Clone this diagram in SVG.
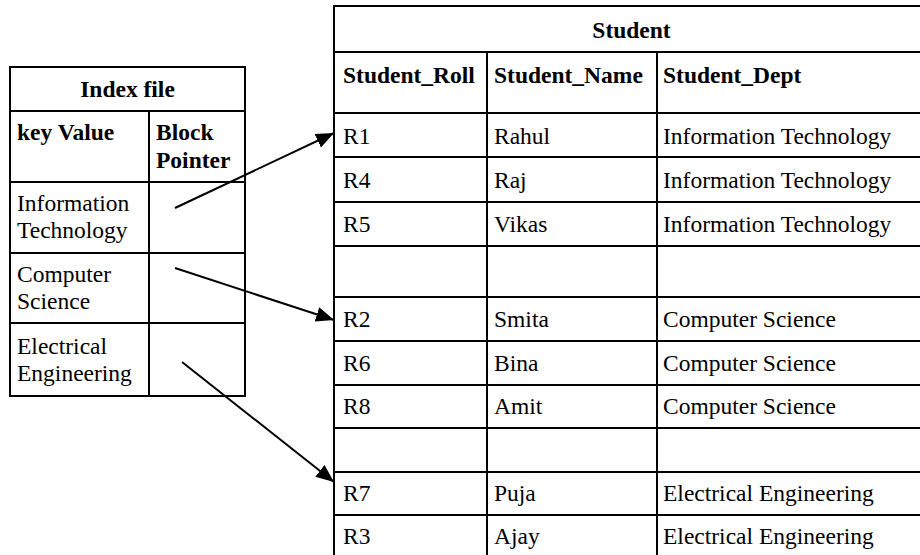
<svg xmlns="http://www.w3.org/2000/svg" width="920" height="555" viewBox="0 0 920 555" font-family="Liberation Serif, Times New Roman, serif">
<style>
.ln{stroke:#000;stroke-width:2;fill:none}
text{font-family:"Liberation Serif",serif;font-size:23.5px;fill:#000}
.b{font-weight:bold}
.arr{stroke:#000;stroke-width:2;fill:none;marker-end:url(#ah)}
</style>
<defs>
<marker id="ah" markerUnits="userSpaceOnUse" markerWidth="20" markerHeight="16" refX="18" refY="8" orient="auto">
<path d="M0,0.5 L18,8 L0,15.5 Z" fill="#000"/>
</marker>
</defs>
<rect width="920" height="555" fill="#fff"/>
<g id="index-file">
<rect class="ln" x="10" y="67" width="235" height="329"/>
<path class="ln" d="M10,111 H245 M10,182 H245 M10,253 H245 M10,323 H245 M149,111 V396"/>
<text class="b" x="127.5" y="97" text-anchor="middle">Index file</text>
<text class="b" x="17" y="140">key Value</text>
<text class="b" x="156" y="140">Block</text>
<text class="b" x="156" y="168">Pointer</text>
<text x="17" y="211">Information</text>
<text x="17" y="238">Technology</text>
<text x="17" y="282">Computer</text>
<text x="17" y="309">Science</text>
<text x="17" y="354">Electrical</text>
<text x="17" y="381">Engineering</text>
</g>
<g id="student">
<path class="ln" d="M334,6 H920 M334,52 H920 M334,113 H920 M334,157 H920 M334,202 H920 M334,246 H920 M334,297 H920 M334,341 H920 M334,385 H920 M334,428 H920 M334,472 H920 M334,515 H920 M334,5 V555 M487,52 V555 M657,52 V555"/>
<text class="b" x="631.5" y="37.5" text-anchor="middle">Student</text>
<text class="b" x="343" y="83">Student_Roll</text>
<text class="b" x="494" y="83">Student_Name</text>
<text class="b" x="663" y="83">Student_Dept</text>
<text x="343" y="144">R1</text><text x="494" y="144">Rahul</text><text x="663" y="144">Information Technology</text>
<text x="343" y="188">R4</text><text x="494" y="188">Raj</text><text x="663" y="188">Information Technology</text>
<text x="343" y="232">R5</text><text x="494" y="232">Vikas</text><text x="663" y="232">Information Technology</text>
<text x="343" y="327">R2</text><text x="494" y="327">Smita</text><text x="663" y="327">Computer Science</text>
<text x="343" y="371">R6</text><text x="494" y="371">Bina</text><text x="663" y="371">Computer Science</text>
<text x="343" y="414">R8</text><text x="494" y="414">Amit</text><text x="663" y="414">Computer Science</text>
<text x="343" y="501">R7</text><text x="494" y="501">Puja</text><text x="663" y="501">Electrical Engineering</text>
<text x="343" y="544">R3</text><text x="494" y="544">Ajay</text><text x="663" y="544">Electrical Engineering</text>
</g>
<g id="connectors">
<line class="arr" x1="175" y1="208" x2="334" y2="133"/>
<line class="arr" x1="175" y1="268" x2="334" y2="320"/>
<line class="arr" x1="182" y1="362" x2="334" y2="482"/>
</g>
</svg>
